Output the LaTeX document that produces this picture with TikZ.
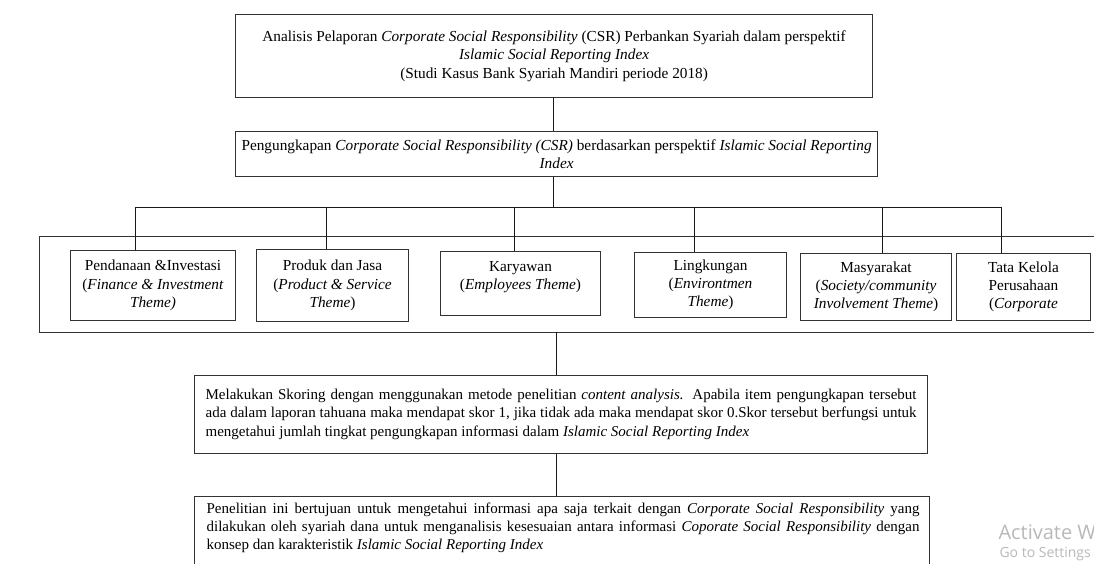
\documentclass[tikz,border=0pt]{standalone}
\usepackage{fontspec}
\setmainfont{Liberation Serif}
\newfontfamily\winfont{Open Sans}
\usetikzlibrary{positioning}

\begin{document}
\begin{tikzpicture}[x=1pt,y=-1pt,font=\fontsize{15.3}{18.3}\selectfont,
   kotak/.style={draw=black!80,line width=1.2pt,anchor=north west,align=center,
                 inner sep=0pt},
   tema/.style={kotak,line width=1pt},
   uraian/.style={kotak,align=justify,inner xsep=11pt,font=\fontsize{15}{18.3}\selectfont},
   garis/.style={draw=black!90,line width=1pt}]
  \useasboundingbox (0,0) rectangle (1094,564);

  % judul dan pengungkapan
  \node[kotak,minimum width=637pt,minimum height=83pt] (judul) at (235,14)
    {Analisis Pelaporan \textit{Corporate Social Responsibility} (CSR) Perbankan Syariah dalam perspektif\\
     \textit{Islamic Social Reporting Index}\\
     (Studi Kasus Bank Syariah Mandiri periode 2018)};
  \node[kotak,minimum width=642pt,minimum height=45pt] (ungkap) at (235,131)
    {Pengungkapan \textit{Corporate Social Responsibility (CSR)} berdasarkan perspektif \textit{Islamic Social Reporting}\\
     \textit{Index}};

  % tema ISR
  \node[kotak,minimum width=1080pt,minimum height=95.7pt] (wadah) at (38.6,236) {};
  \node[tema,minimum width=165pt,minimum height=70pt] (dana) at (70,250)
    {Pendanaan \&Investasi\\(\textit{Finance \& Investment}\\\textit{Theme)}};
  \node[tema,minimum width=152pt,minimum height=72pt] (produk) at (256,249)
    {Produk dan Jasa\\(\textit{Product \& Service}\\\textit{Theme})};
  \node[tema,minimum width=160pt,minimum height=64pt] (karyawan) at (440,251)
    {Karyawan\\(\textit{Employees Theme})\\[-2pt]\mbox{}};
  \node[tema,minimum width=152pt,minimum height=65pt] (lingkungan) at (634,252)
    {Lingkungan\\(\textit{Environtmen}\\\textit{Theme})};
  \node[tema,minimum width=151pt,minimum height=67pt] (masyarakat) at (800,253)
    {Masyarakat\\(\textit{Society/community}\\\textit{Involvement Theme})};
  \node[tema,minimum width=134pt,minimum height=67pt] (tatakelola) at (956,253)
    {Tata Kelola\\Perusahaan\\(\textit{Corporate}};

  % skoring dan tujuan
  \node[uraian,minimum width=733pt,minimum height=77.5pt,text width=711pt] (skor) at (194,375)
    {Melakukan Skoring dengan menggunakan metode penelitian \textit{content analysis.} Apabila item pengungkapan tersebut\linebreak
     ada dalam laporan tahuana maka mendapat skor 1, jika tidak ada maka mendapat skor 0.Skor tersebut berfungsi untuk\linebreak
     mengetahui jumlah tingkat pengungkapan informasi dalam \textit{Islamic Social Reporting Index}};
  \node[kotak,minimum width=735pt,minimum height=90pt] (tujuan) at (194,496) {};
  \node[kotak,draw=none,align=justify,text width=713pt,font=\fontsize{15}{18.3}\selectfont,
        below right=6pt and 12pt of tujuan.north west] (tujuanteks)
    {Penelitian ini bertujuan untuk mengetahui informasi apa saja terkait dengan \textit{Corporate Social Responsibility} yang\linebreak
     dilakukan oleh syariah dana untuk menganalisis kesesuaian antara informasi \textit{Coporate Social Responsibility} dengan\linebreak
     konsep dan karakteristik \textit{Islamic Social Reporting Index}};

  % garis penghubung
  \coordinate (cabang) at (553.5,207.5);
  \coordinate (c1) at (135,207.5);
  \coordinate (c2) at (326,207.5);
  \coordinate (c3) at (514,207.5);
  \coordinate (c4) at (694,207.5);
  \coordinate (c5) at (882,207.5);
  \coordinate (c6) at (1001.5,207.5);
  \coordinate (poros) at (556.5,331.7);
  \draw[garis] (judul.south -| cabang) -- (ungkap.north -| cabang);
  \draw[garis] (ungkap.south -| cabang) -- (cabang);
  \draw[garis] (c1) -- (c6);
  \draw[garis] (c1) -- (c1 |- dana.north);
  \draw[garis] (c2) -- (c2 |- produk.north);
  \draw[garis] (c3) -- (c3 |- karyawan.north);
  \draw[garis] (c4) -- (c4 |- lingkungan.north);
  \draw[garis] (c5) -- (c5 |- masyarakat.north);
  \draw[garis] (c6) -- (c6 |- tatakelola.north);
  \draw[garis] (poros) -- (poros |- skor.north);
  \draw[garis] (poros |- skor.south) -- (poros |- tujuan.north);

  % tanda air windows
  \node[anchor=west,text=black!28,font=\winfont\fontsize{20}{20}\selectfont] (aktif) at (995,532) {Activate Windows};
  \node[anchor=west,text=black!28,font=\winfont\fontsize{14}{14}\selectfont] (setelan) at (996,554) {Go to Settings};
\end{tikzpicture}
\end{document}
